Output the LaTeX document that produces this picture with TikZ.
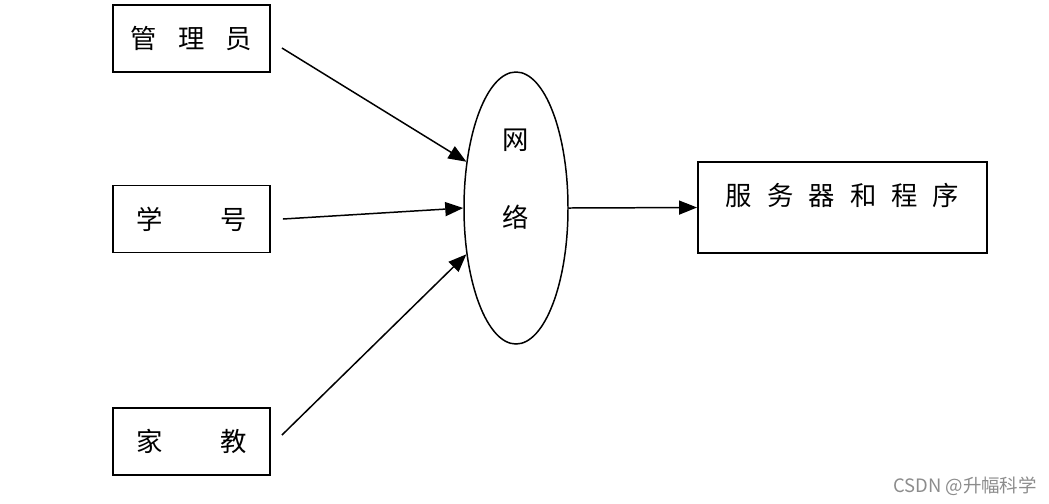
\documentclass[tikz,border=0pt]{standalone}
\usepackage{fontspec}
\usepackage{tikz}
\usetikzlibrary{arrows.meta}
\usetikzlibrary{shapes.geometric, calc}
\newfontfamily\cjk{Noto Sans CJK SC}
\begin{document}
\begin{tikzpicture}[
    box/.style={draw, line width=1.1pt, minimum width=3.14cm, minimum height=1.34cm, inner sep=0pt,
        font=\cjk\fontsize{15}{18}\selectfont},
    arr/.style={line width=0.85pt, -{Triangle[length=0.36cm, width=0.28cm]}}
]
    % Cadre
    \useasboundingbox (0,0) rectangle (20.98,-10.06);

    % Boites de gauche
    \node[box] (gly) at (3.83,-0.77) {管\hspace{0.42cm}理\hspace{0.42cm}员};
    \node[box] (xh) at (3.83,-4.38) {学\hspace{1.16cm}号};
    \node[box] (jj) at (3.83,-8.83) {家\hspace{1.16cm}教};

    % Ellipse du reseau
    \node[draw, ellipse, line width=0.85pt, minimum width=2.08cm, minimum height=5.44cm, inner sep=0pt] (wl) at (10.32,-4.16) {};
    \node[font=\cjk\fontsize{15}{18}\selectfont] (wz) at (10.32,-2.8) {网};
    \node[font=\cjk\fontsize{15}{18}\selectfont] (lz) at (10.32,-4.34) {络};

    % Boite de droite
    \node[box, minimum width=5.78cm, minimum height=1.82cm] (fwq) at (16.85,-4.15) {};
    \node[font=\cjk\fontsize{15}{18}\selectfont] (fwqt) at (16.85,-3.9)
        {服\hspace{0.3cm}务\hspace{0.3cm}器\hspace{0.3cm}和\hspace{0.3cm}程\hspace{0.3cm}序};

    % Fleches
    \draw[arr] ([xshift=0.22cm, yshift=-0.19cm]gly.east) -- (wl.137);
    \draw[arr] ([xshift=0.24cm]xh.east) -- (wl.west);
    \draw[arr] ([xshift=0.22cm, yshift=0.13cm]jj.east) -- (wl.223);
    \draw[arr] (wl.east) -- (fwq.west);

    % Filigrane
    \node[font=\cjk\fontsize{10.5}{12}\selectfont, text=black!45] (wm) at (19.3,-9.72) {CSDN @升幅科学};
\end{tikzpicture}
\end{document}
